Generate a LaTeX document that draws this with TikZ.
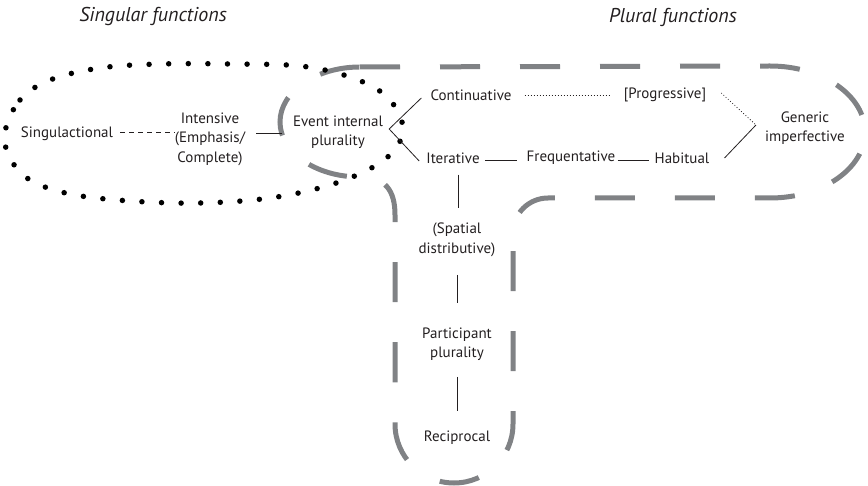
\documentclass[tikz,border=0pt]{standalone}
\usepackage{fontspec}
\setmainfont{PT Sans}
\usetikzlibrary{calc}
\definecolor{dashgray}{RGB}{128,130,133}
\definecolor{txt}{RGB}{35,31,32}
\begin{document}
\begin{tikzpicture}[x=1pt,y=-1pt,
  lbl/.style={font=\fontsize{15}{19.5}\selectfont, text=txt, align=center, inner sep=0pt},
  ttl/.style={font=\fontsize{20}{22}\selectfont\itshape, text=txt, inner sep=0pt},
  link/.style={draw=txt, line width=0.8pt},
  dotlink/.style={link, dash pattern=on 0.8pt off 2.2pt},
  dashlink/.style={link, dash pattern=on 5pt off 4pt},
  grayoutline/.style={draw=dashgray, line width=5pt, dash pattern=on 40pt off 40pt},
  dotoutline/.style={draw=black, line width=5.5pt, line cap=round, dash pattern=on 0pt off 19.6pt}]
\useasboundingbox (0,0) rectangle (868,486);

% gray dashed T-shaped outline
\draw[grayoutline] (360,67) -- (770,66)
  arc[start angle=-90,end angle=90,x radius=95,y radius=66]
  -- (548,198) arc[start angle=-90,end angle=-180,radius=35]
  -- (513,424) arc[start angle=0,end angle=180,radius=59]
  -- (395,215) .. controls (395,190) and (385,177) .. (360,177)
  arc[start angle=90,end angle=270,x radius=80,y radius=55] -- cycle;

% dotted ellipse
\draw[dotoutline] plot[smooth cycle, tension=0.6] coordinates {
  (5,132) (20,100) (50,80) (100,68) (160,64) (230,64) (300,66) (350,77)
  (385,95) (402,122) (398,145) (375,166) (330,185) (270,198) (200,203)
  (130,201) (70,194) (30,180) (10,158)};

% titles
\node[ttl] (st) at (153,17) {Singular functions};
\node[ttl] (pt) at (673,17) {Plural functions};

% nodes
\node[lbl] (sing) at (67,134) {Singulactional};
\node[lbl] (int) at (210,139) {Intensive\\(Emphasis/\\Complete)};
\node[lbl] (ev) at (338,132) {Event internal\\plurality};
\node[lbl] (cont) at (471,95) {Continuative};
\node[lbl] (prog) at (665,95) {[Progressive]};
\node[lbl] (gen) at (805,128) {Generic\\imperfective};
\node[lbl] (iter) at (453,158) {Iterative};
\node[lbl] (freq) at (571,158) {Frequentative};
\node[lbl] (hab) at (682,158) {Habitual};
\node[lbl] (spat) at (457,240) {(Spatial\\distributive)};
\node[lbl] (part) at (457,344) {Participant\\plurality};
\node[lbl] (reci) at (457,438) {Reciprocal};

% connectors
\coordinate (v) at ($(ev.east)+(6,-3)$);
\coordinate (gv) at ($(gen.west)+(-9,-3)$);
\draw[dashlink] ($(sing.east)+(7,-2)$) -- ($(int.west)+(0,-7)$);
\draw[link] ($(int.east)+(11,-6)$) -- ($(ev.west)+(-11,1)$);
\draw[link] ($(cont.west)+(-9,3)$) -- (v) -- ($(iter.west)+(-7,3)$);
\draw[dotlink] ($(cont.east)+(13,0)$) -- ($(prog.west)+(-13,0)$);
\draw[dotlink] ($(prog.east)+(15,-2)$) -- (gv);
\draw[link] (gv) -- ($(hab.east)+(15,0)$);
\draw[link] ($(iter.east)+(5,2)$) -- ($(freq.west)+(-10,2)$);
\draw[link] ($(freq.east)+(2,2)$) -- ($(hab.west)+(-5,2)$);
\draw[link, shorten <=11pt, shorten >=15pt] ([xshift=5pt]iter.south) -- ([xshift=1pt]spat.north);
\draw[link, shorten <=18pt, shorten >=24pt] (spat.south) -- (part.north);
\draw[link, shorten <=16pt, shorten >=20pt] (part.south) -- (reci.north);
\end{tikzpicture}
\end{document}
